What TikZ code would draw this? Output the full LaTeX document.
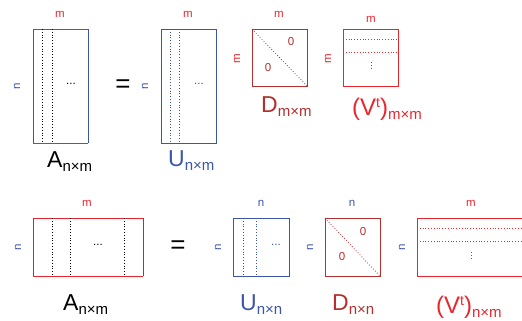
\documentclass[tikz,border=0pt]{standalone}
\usepackage{fontspec}
\setmainfont{Liberation Sans}
\definecolor{mblue}{HTML}{3B55A8}
\definecolor{mred}{HTML}{E8262E}
\definecolor{dred}{HTML}{B3302F}
\newcommand{\BigL}[2]{{\fontsize{23}{23}\selectfont #1}{\fontsize{15}{15}\selectfont\raisebox{-4pt}{#2}}}
\newcommand{\BigV}[1]{{\fontsize{24}{24}\selectfont (V\raisebox{8pt}{\fontsize{14}{14}\selectfont t})}{\fontsize{15}{15}\selectfont\raisebox{-4pt}{#1}}}
\begin{document}
\begin{tikzpicture}[x=1pt,y=-1pt,
  box/.style={inner sep=0,outer sep=0,draw=none},
  lbl/.style={font=\fontsize{11.5}{11.5}\selectfont,inner sep=0},
  rlbl/.style={lbl,rotate=90},
  big/.style={inner sep=0,anchor=base west},
  dots/.style={line width=0.8pt,dotted},
  vdot/.style={line width=1pt,dash pattern=on 1pt off 2pt},
  eq/.style={font=\fontsize{26}{26}\selectfont,inner sep=0}]
\clip (0,0) rectangle (522,321);
% ---------- top row ----------
\node[box,minimum width=55pt,minimum height=114pt] (A1) at (60.5,86) {};
\draw[mblue,line width=0.9pt] (A1.north west) -- (A1.south west) (A1.north east) -- (A1.south east);
\draw[mred,line width=0.9pt] (A1.north west) -- (A1.north east) (A1.south west) -- (A1.south east);
\draw[dots,black] ([xshift=9pt]A1.north west) -- ([xshift=9pt]A1.south west);
\draw[dots,black] ([xshift=19pt]A1.north west) -- ([xshift=19pt]A1.south west);
\node[lbl] (A1d) at (71,84) {...};
\node[lbl,text=mred] (A1m) at (60,14) {m};
\node[rlbl,text=mblue] (A1n) at (17,86) {n};
\node[big] (A1l) at (47,167) {\BigL{A}{n×m}};
\node[eq] (eq1) at (123,86) {=};

\node[box,minimum width=55pt,minimum height=114pt] (U1) at (188.5,86) {};
\draw[mblue,line width=0.9pt] (U1.north west) rectangle (U1.south east);
\draw[dots,mblue] ([xshift=9pt]U1.north west) -- ([xshift=9pt]U1.south west);
\draw[dots,mblue] ([xshift=18pt]U1.north west) -- ([xshift=18pt]U1.south west);
\node[lbl,text=mblue] (U1d) at (199,84) {...};
\node[lbl,text=mred] (U1m) at (188,14) {m};
\node[rlbl,text=mblue] (U1n) at (145,86) {n};
\node[big,text=mblue] (U1l) at (168,166) {\BigL{U}{n×m}};

\node[box,minimum width=55pt,minimum height=57pt] (D1) at (279.5,57.5) {};
\draw[dred,line width=0.9pt] (D1.north west) rectangle (D1.south east);
\draw[dots,dred] (D1.north west) -- (D1.south east);
\node[lbl,text=dred] (D1a) at (291,42) {0};
\node[lbl,text=dred] (D1b) at (268,68) {0};
\node[lbl,text=mred] (D1m) at (279,14) {m};
\node[rlbl,text=mred] (D1n) at (237,59) {m};
\node[big,text=dred] (D1l) at (261,112) {\BigL{D}{m×m}};

\node[box,minimum width=55pt,minimum height=57pt] (V1) at (370.5,57.5) {};
\draw[mred,line width=0.9pt] (V1.north west) rectangle (V1.south east);
\draw[dots,mred] ([yshift=-10pt]V1.north west) -- ([yshift=-10pt]V1.north east);
\draw[dots,mred] ([yshift=-23pt]V1.north west) -- ([yshift=-23pt]V1.north east);
\coordinate (V1d) at (371,62);
\draw[vdot,mred] (V1d) -- ++(0,9);
\node[lbl,text=mred] (V1m) at (371,19) {m};
\node[rlbl,text=mred] (V1n) at (328,59) {m};
\node[big,text=mred] (V1l) at (352,115) {\BigV{m×m}};
% ---------- bottom row ----------
\node[box,minimum width=110pt,minimum height=58pt] (A2) at (88,247) {};
\draw[mred,line width=0.9pt] (A2.north west) -- (A2.north east) (A2.south west) -- (A2.south east);
\draw[mblue,line width=0.9pt] (A2.north west) -- (A2.south west) (A2.north east) -- (A2.south east);
\draw[dots,black] ([xshift=19pt]A2.north west) -- ([xshift=19pt]A2.south west);
\draw[dots,black] ([xshift=37pt]A2.north west) -- ([xshift=37pt]A2.south west);
\draw[dots,black] ([xshift=91pt]A2.north west) -- ([xshift=91pt]A2.south west);
\node[lbl] (A2d) at (98,245) {...};
\node[lbl,text=mred] (A2m) at (87,203) {m};
\node[rlbl,text=mblue] (A2n) at (18,247) {n};
\node[big] (A2l) at (63,310) {\BigL{A}{n×m}};
\node[eq] (eq2) at (178,247) {=};

\node[box,minimum width=56pt,minimum height=58pt] (U2) at (261,247) {};
\draw[mblue,line width=0.9pt] (U2.north west) rectangle (U2.south east);
\draw[dots,mblue] ([xshift=10pt]U2.north west) -- ([xshift=10pt]U2.south west);
\draw[dots,mblue] ([xshift=23pt]U2.north west) -- ([xshift=23pt]U2.south west);
\node[lbl,text=mblue] (U2d) at (276,245) {...};
\node[lbl,text=mblue] (U2m) at (261,203) {n};
\node[rlbl,text=mblue] (U2n) at (218,247) {n};
\node[big,text=mblue] (U2l) at (240,310) {\BigL{U}{n×n}};

\node[box,minimum width=55pt,minimum height=58pt] (D2) at (352.5,247) {};
\draw[dred,line width=0.9pt] (D2.north west) rectangle (D2.south east);
\draw[dots,dred] (D2.north west) -- (D2.south east);
\node[lbl,text=dred] (D2a) at (363,232) {0};
\node[lbl,text=dred] (D2b) at (342,257) {0};
\node[lbl,text=mblue] (D2m) at (352,203) {n};
\node[rlbl,text=mblue] (D2n) at (310,247) {n};
\node[big,text=dred] (D2l) at (332,310) {\BigL{D}{n×n}};

\node[box,minimum width=120pt,minimum height=58pt] (V2) at (477,247) {};
\draw[mred,line width=0.9pt] (V2.north west) rectangle (V2.south east);
\draw[dots,mred] ([yshift=-10pt]V2.north west) -- ([yshift=-10pt]V2.north east);
\draw[dots,mred] ([yshift=-23pt]V2.north west) -- ([yshift=-23pt]V2.north east);
\coordinate (V2d) at (471,252);
\draw[vdot,mred] (V2d) -- ++(0,9);
\node[lbl,text=mred] (V2m) at (471,203) {m};
\node[rlbl,text=mblue] (V2n) at (402,247) {n};
\node[big,text=mred] (V2l) at (436,313) {\BigV{n×m}};
\end{tikzpicture}
\end{document}
